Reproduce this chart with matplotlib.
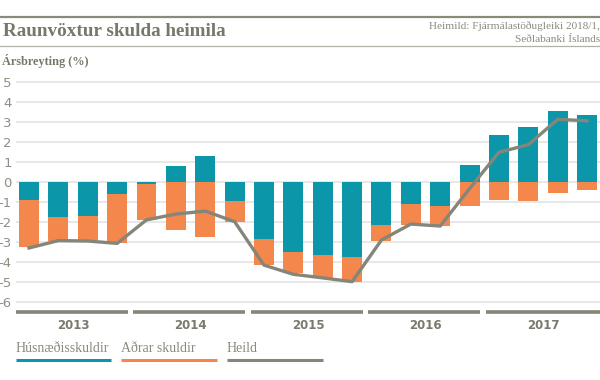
import matplotlib.pyplot as plt
import numpy as np
from matplotlib.transforms import blended_transform_factory

# quarterly contributions, 2013Q1 - 2017Q4
husnaedi = [-0.89, -1.76, -1.69, -0.59,
            -0.07, 0.79, 1.31, -0.95,
            -2.85, -3.50, -3.65, -3.74,
            -2.13, -1.10, -1.19, 0.87,
            2.35, 2.78, 3.59, 3.37]
adrar = [-2.38, -1.17, -1.21, -2.48,
         -1.82, -2.41, -2.76, -1.03,
         -1.31, -1.07, -1.14, -1.25,
         -0.80, -1.03, -1.01, -1.17,
         -0.89, -0.95, -0.52, -0.37]
heild = [-3.30, -2.93, -2.95, -3.07,
         -1.89, -1.60, -1.45, -1.98,
         -4.16, -4.62, -4.80, -4.99,
         -2.90, -2.10, -2.20, -0.32,
         1.50, 1.88, 3.15, 3.08]
years = ['2013', '2014', '2015', '2016', '2017']
yticks = list(range(-6, 6))

TEAL = '#0b97a9'
ORANGE = '#f4874b'
GREY = '#85857a'
SERIF = 'Liberation Serif'

fig = plt.figure(figsize=(6, 3.8), dpi=100)
ax = fig.add_axes([16 / 600, 0.19, 1 - 16 / 600, 0.6087])

x = np.arange(len(husnaedi))
h = np.array(husnaedi)
a = np.array(adrar)
# orange sits below teal when both are negative
a_bottom = np.where((h < 0) & (a < 0), h, 0)

ax.bar(x, h, width=0.68, color=TEAL, zorder=2)
ax.bar(x, a, width=0.68, bottom=a_bottom, color=ORANGE, zorder=2)
ax.plot(x, heild, color=GREY, lw=2.4, zorder=3, solid_joinstyle='round')

ax.set_xlim(-0.443, 19.44)
ax.set_ylim(-6.3, 5.3)
ax.set_yticks(yticks)
ax.set_yticklabels([str(t) for t in yticks], color='#8e8e84', fontsize=9.5)
ax.yaxis.grid(True, color='#e6e6e6', lw=1.3, zorder=0)
ax.set_axisbelow(True)
ax.tick_params(axis='y', length=0, pad=3)
ax.set_xticks([])
for s in ax.spines.values():
    s.set_visible(False)

# year bands below the plot
tr = blended_transform_factory(ax.transData, ax.transAxes)
for i, yr in enumerate(years):
    x0 = 4 * i - 0.443
    x1 = 4 * i + 3.37 if i < 4 else 19.44
    ax.plot([x0, x1], [-0.018, -0.018], transform=tr, color=GREY, lw=2.6,
            clip_on=False, solid_capstyle='butt')
    ax.text(4 * i + 1.5, -0.075, yr, transform=tr, ha='center', va='center',
            fontsize=8.5, fontweight='semibold', color='#7a7a6e')

# header
fig.add_artist(plt.Line2D([0, 1], [1 - 17.3 / 380] * 2, color='#8a8a7a', lw=1.6))
fig.add_artist(plt.Line2D([0, 1], [1 - 45.7 / 380] * 2, color='#b0b0a4', lw=0.9))
fig.text(3 / 600, 1 - 32 / 380, 'Raunvöxtur skulda heimila', fontsize=13.8,
         fontweight='bold', family=SERIF, color='#77776a', va='center')
fig.text(1.0, 1 - 26 / 380, 'Heimild: Fjármálastöðugleiki 2018/1,', fontsize=8.1,
         family=SERIF, color='#8a8a7e', ha='right', va='center')
fig.text(1.0, 1 - 39 / 380, 'Seðlabanki Íslands', fontsize=8.1,
         family=SERIF, color='#8a8a7e', ha='right', va='center')
fig.text(2 / 600, 1 - 61 / 380, 'Ársbreyting (%)', fontsize=8.8,
         fontweight='bold', family=SERIF, color='#77776a', va='center')

# legend
legend = [('Húsnæðisskuldir', TEAL, 16, 111),
          ('Aðrar skuldir', ORANGE, 121, 217),
          ('Heild', GREY, 227, 323)]
for label, col, l, r in legend:
    fig.text(l / 600, 1 - 349 / 380, label, fontsize=10, family=SERIF,
             color='#8a8a7e', va='center')
    fig.add_artist(plt.Line2D([l / 600, r / 600], [1 - 360 / 380] * 2,
                              color=col, lw=2.2, solid_capstyle='butt'))

fig.savefig('out.png', dpi=100)
